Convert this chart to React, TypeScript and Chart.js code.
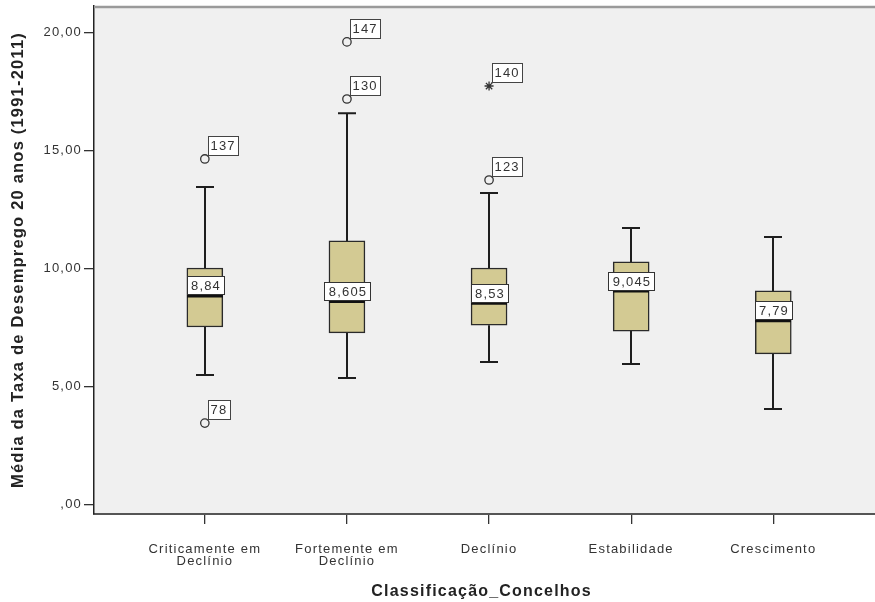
import React, { useEffect, useRef } from 'react';
import { Chart, registerables } from 'chart.js';

Chart.register(...registerables);

// ---- data ----
const categoryLabels: (string | string[])[] = [
  ['Criticamente em', 'Declínio'],
  ['Fortemente em', 'Declínio'],
  'Declínio',
  'Estabilidade',
  'Crescimento',
];
const categoryPositions = [1, 2, 3, 4, 5];
const whiskerLow = [5.49, 5.36, 6.04, 5.95, 4.05];
const q1 = [7.52, 7.27, 7.6, 7.35, 6.38];
const median = [8.84, 8.605, 8.53, 9.045, 7.79];
const q3 = [10.02, 11.17, 10.02, 10.28, 9.05];
const whiskerHigh = [13.45, 16.58, 13.2, 11.72, 11.33];
const medianLabels = ['8,84', '8,605', '8,53', '9,045', '7,79'];

const outlierCategory = [1, 1, 2, 2, 3, 3];
const outlierValue = [14.64, 3.45, 19.6, 17.18, 17.73, 13.75];
const outlierLabel = ['137', '78', '147', '130', '140', '123'];
const outlierExtreme = [false, false, false, false, true, false];

const yTicks = [0, 5, 10, 15, 20];

const FONT = "'Liberation Sans', Arial, Helvetica, sans-serif";

function fmtY(v: number) {
  if (v === 0) return ',00';
  return v.toFixed(2).replace('.', ',');
}

export default function App() {
  const ref = useRef<HTMLCanvasElement>(null);

  useEffect(() => {
    document.body.style.margin = '0';
    const canvas = ref.current;
    if (!canvas) return;

    const boxPlugin = {
      id: 'boxplotExtras',
      beforeDraw(chart: any) {
        const { ctx, chartArea: a } = chart;
        ctx.save();
        ctx.fillStyle = '#ffffff';
        ctx.fillRect(0, 0, chart.width, chart.height);
        ctx.fillStyle = '#f0f0f0';
        ctx.fillRect(a.left, a.top, chart.width - a.left, a.bottom - a.top);
        ctx.restore();
        (ctx as any).letterSpacing = '1.2px';
      },
      beforeDatasetsDraw(chart: any) {
        const { ctx } = chart;
        const xs = chart.scales.x;
        const ys = chart.scales.y;
        ctx.save();
        ctx.strokeStyle = '#1e1e1e';
        ctx.lineWidth = 2;
        categoryPositions.forEach((c, i) => {
          const px = Math.round(xs.getPixelForValue(c));
          const yH = ys.getPixelForValue(whiskerHigh[i]);
          const yQ3 = ys.getPixelForValue(q3[i]);
          const yQ1 = ys.getPixelForValue(q1[i]);
          const yL = ys.getPixelForValue(whiskerLow[i]);
          ctx.beginPath();
          ctx.moveTo(px, yH);
          ctx.lineTo(px, yQ3);
          ctx.moveTo(px, yQ1);
          ctx.lineTo(px, yL);
          ctx.moveTo(px - 9, yH);
          ctx.lineTo(px + 9, yH);
          ctx.moveTo(px - 9, yL);
          ctx.lineTo(px + 9, yL);
          ctx.stroke();
        });
        ctx.restore();
      },
      afterDatasetsDraw(chart: any) {
        const { ctx, chartArea: a } = chart;
        const xs = chart.scales.x;
        const ys = chart.scales.y;
        ctx.save();
        ctx.font = `13px ${FONT}`;
        ctx.textAlign = 'center';
        ctx.textBaseline = 'middle';
        // medians and their labels
        categoryPositions.forEach((c, i) => {
          const px = Math.round(xs.getPixelForValue(c));
          const ym = ys.getPixelForValue(median[i]);
          ctx.strokeStyle = '#111';
          ctx.lineWidth = 3;
          ctx.beginPath();
          ctx.moveTo(px - 18, ym);
          ctx.lineTo(px + 18, ym);
          ctx.stroke();
          const tw = ctx.measureText(medianLabels[i]).width;
          const w = Math.round(tw + 7);
          const h = 18;
          const bx = Math.round(px - w / 2) + 0.5;
          const by = Math.round(ym - 1.5 - h) + 0.5;
          ctx.fillStyle = '#ffffff';
          ctx.fillRect(bx, by, w, h);
          ctx.strokeStyle = '#333';
          ctx.lineWidth = 1;
          ctx.strokeRect(bx, by, w, h);
          ctx.fillStyle = '#333';
          ctx.fillText(medianLabels[i], px + 1, by + h / 2 + 0.5);
        });
        // outlier labels
        ctx.textAlign = 'left';
        outlierValue.forEach((v, i) => {
          const px = xs.getPixelForValue(outlierCategory[i]);
          const py = ys.getPixelForValue(v);
          const tw = ctx.measureText(outlierLabel[i]).width;
          const w = Math.round(tw + 5);
          const h = 19;
          const left = Math.round(px + 3) + 0.5;
          const bottom = Math.round(py - 4) + 0.5;
          ctx.fillStyle = '#ffffff';
          ctx.fillRect(left, bottom - h, w, h);
          ctx.strokeStyle = '#444';
          ctx.lineWidth = 1;
          ctx.strokeRect(left, bottom - h, w, h);
          ctx.beginPath();
          ctx.moveTo(left, bottom);
          ctx.lineTo(px + 2, py - 3);
          ctx.stroke();
          ctx.fillStyle = '#333';
          ctx.fillText(outlierLabel[i], left + 2, bottom - h / 2 + 0.5);
        });
        // top border of the plot frame
        ctx.strokeStyle = '#9a9a9a';
        ctx.lineWidth = 2.5;
        ctx.beginPath();
        ctx.moveTo(a.left, a.top + 1);
        ctx.lineTo(chart.width, a.top + 1);
        ctx.stroke();
        ctx.restore();
      },
      afterDraw(chart: any) {
        const { ctx, chartArea: a } = chart;
        // continue the x axis line up to the right edge of the picture
        ctx.save();
        ctx.strokeStyle = '#555';
        ctx.lineWidth = 2;
        ctx.beginPath();
        ctx.moveTo(a.right - 2, Math.round(a.bottom));
        ctx.lineTo(chart.width, Math.round(a.bottom));
        ctx.stroke();
        ctx.restore();
        (ctx as any).letterSpacing = '0px';
      },
    };

    const chart = new Chart(canvas, {
      type: 'bar',
      data: {
        datasets: [
          {
            type: 'bar',
            data: categoryPositions.map((c, i) => ({ x: c, y: [q1[i], q3[i]] })) as any,
            backgroundColor: '#d3ca93',
            borderColor: '#2a2a2a',
            borderWidth: 1.5,
            borderSkipped: false,
            barThickness: 36,
          } as any,
          {
            type: 'scatter',
            data: outlierValue.map((v, i) => ({ x: outlierCategory[i], y: v })),
            pointStyle: outlierExtreme.map((e) => (e ? 'star' : 'circle')) as any,
            pointRadius: outlierExtreme.map((e) => (e ? 4.5 : 4.2)) as any,
            backgroundColor: '#f0f0f0',
            borderColor: '#333',
            borderWidth: 1.3,
          } as any,
        ],
      },
      options: {
        animation: false,
        responsive: true,
        maintainAspectRatio: false,
        layout: { padding: { top: 6, left: 0, right: 0, bottom: 0 } },
        plugins: {
          legend: { display: false },
          tooltip: { enabled: false },
        },
        scales: {
          x: {
            type: 'linear',
            offset: false,
            min: 0.22,
            max: 5.675,
            afterBuildTicks: (s: any) => {
              s.ticks = categoryPositions.map((v) => ({ value: v }));
            },
            afterFit: (s: any) => {
              s.height = 88;
              s.paddingLeft = 0;
              s.paddingRight = 0;
            },
            ticks: {
              autoSkip: false,
              maxRotation: 0,
              minRotation: 0,
              padding: 19,
              color: '#333',
              font: { size: 13, family: FONT, lineHeight: 0.95 },
              callback: (_v: any, idx: number) => categoryLabels[idx] as any,
            },
            grid: {
              offset: false,
              drawOnChartArea: false,
              drawTicks: true,
              tickLength: 10,
              color: '#333',
              lineWidth: 1.3,
            },
            border: { display: true, color: '#555', width: 2 },
            title: {
              display: true,
              text: 'Classificação_Concelhos',
              color: '#222',
              font: { size: 16, weight: 'bold', family: FONT },
              padding: { top: 0, bottom: 1 },
            },
          } as any,
          y: {
            type: 'linear',
            min: -0.4,
            max: 21.12,
            afterBuildTicks: (s: any) => {
              s.ticks = yTicks.map((v) => ({ value: v }));
            },
            afterFit: (s: any) => {
              s.width = 94;
              s.paddingTop = 0;
              s.paddingBottom = 0;
            },
            ticks: {
              padding: 2,
              color: '#333',
              font: { size: 13, family: FONT },
              callback: (v: any) => fmtY(Number(v)),
            },
            grid: {
              drawOnChartArea: false,
              drawTicks: true,
              tickLength: 10,
              color: '#333',
              lineWidth: 1.3,
            },
            border: { display: true, color: '#222', width: 1.5 },
            title: {
              display: true,
              text: 'Média da Taxa de Desemprego 20 anos (1991-2011)',
              color: '#222',
              font: { size: 16.5, weight: 'bold', family: FONT },
              padding: { top: 9, bottom: 0 },
            },
          } as any,
        },
      },
      plugins: [boxPlugin as any],
    });

    return () => chart.destroy();
  }, []);

  return (
    <div style={{ width: 875, height: 602, position: 'relative' }}>
      <canvas ref={ref} />
    </div>
  );
}
